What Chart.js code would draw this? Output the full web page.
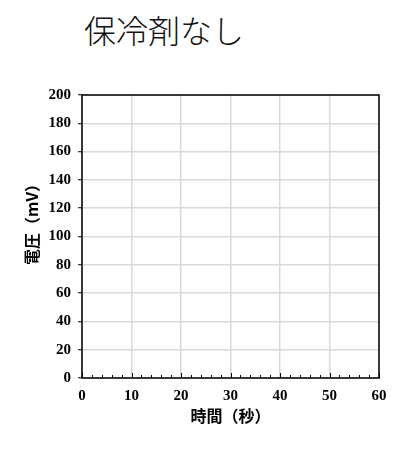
<!DOCTYPE html>
<html lang="ja">
<head>
<meta charset="UTF-8">
<title>保冷剤なし</title>
<script src="https://cdn.jsdelivr.net/npm/chart.js"></script>
<style>
  body { margin: 0; background: #fff; }
  #wrap { position: relative; width: 400px; height: 451px; }
  #title { position: absolute; left: 84px; top: 6px; font: 300 32px "Noto Sans CJK JP"; color: #111; white-space: nowrap; }
  canvas { position: absolute; left: 0; top: 0; }
</style>
</head>
<body>
<div id="wrap">
  <div id="title">保冷剤なし</div>
  <canvas id="chart" width="400" height="451"></canvas>
</div>
<script>
  // no measurements were plotted in the original sheet
  const timeSec = [];
  const voltageMV = [];
  const xTicks = [0, 10, 20, 30, 40, 50, 60];
  const yTicks = [0, 20, 40, 60, 80, 100, 120, 140, 160, 180, 200];
  const xMinorStep = 2;

  const tickFont = { family: 'Liberation Serif', weight: 'bold', size: 15 };
  const labelFont = { family: 'Noto Sans CJK JP', weight: 'bold', size: 16 };

  // frame round the plot area + small inward ticks on the time axis
  const framePlugin = {
    id: 'frame',
    afterDraw(chart) {
      const { ctx, chartArea: a, scales: { x } } = chart;
      ctx.save();
      ctx.strokeStyle = '#000';
      ctx.lineWidth = 1;
      for (let v = x.min; v <= x.max; v += xMinorStep) {
        const px = Math.round(x.getPixelForValue(v)) + 0.5;
        const len = v % 10 === 0 ? 5 : 3;
        ctx.beginPath();
        ctx.moveTo(px, a.bottom);
        ctx.lineTo(px, a.bottom - len);
        ctx.stroke();
      }
      ctx.lineWidth = 1.5;
      ctx.strokeRect(a.left, a.top, a.width, a.height);
      ctx.restore();
    }
  };

  new Chart(document.getElementById('chart'), {
    type: 'scatter',
    data: {
      datasets: [{
        label: '電圧',
        data: timeSec.map((t, i) => ({ x: t, y: voltageMV[i] })),
        borderColor: '#000',
        backgroundColor: '#000'
      }]
    },
    options: {
      responsive: false,
      animation: false,
      layout: { padding: { top: 95, right: 21, bottom: 21, left: 18 } },
      plugins: { legend: { display: false }, tooltip: { enabled: false } },
      scales: {
        x: {
          type: 'linear',
          min: xTicks[0],
          max: xTicks[xTicks.length - 1],
          afterBuildTicks: s => { s.ticks = xTicks.map(v => ({ value: v })); },
          afterFit: s => { s.height = 52; },
          grid: { color: '#d9d9d9', lineWidth: 1.5, drawTicks: false },
          border: { display: false },
          ticks: { color: '#000', font: tickFont, padding: 9, maxRotation: 0 },
          title: { display: true, text: '時間（秒）', color: '#000', font: labelFont, padding: { top: 2 } }
        },
        y: {
          min: yTicks[0],
          max: yTicks[yTicks.length - 1],
          afterBuildTicks: s => { s.ticks = yTicks.map(v => ({ value: v })); },
          afterFit: s => { s.width = 64; },
          grid: { color: '#d9d9d9', lineWidth: 1.5, tickLength: 4, tickColor: '#000', tickWidth: 1 },
          border: { display: false },
          ticks: { color: '#000', font: tickFont, padding: 7 },
          title: { display: true, text: '　　電圧（mV）', color: '#000', font: labelFont, padding: { bottom: 0 } }
        }
      }
    },
    plugins: [framePlugin]
  });
</script>
</body>
</html>
